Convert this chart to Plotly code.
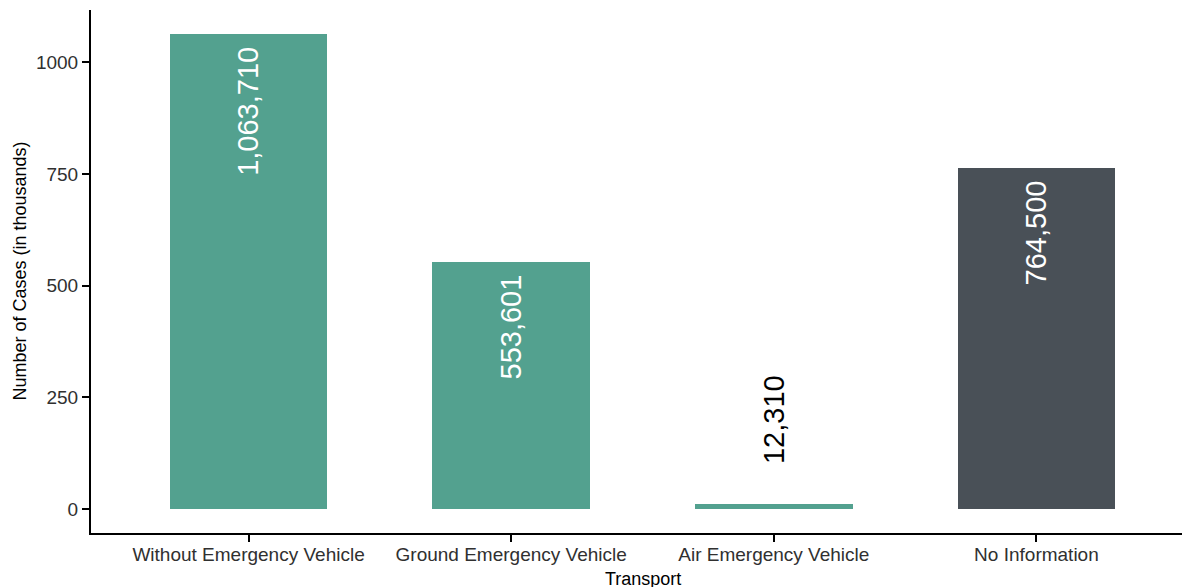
import plotly.graph_objects as go

categories = ["Without Emergency Vehicle", "Ground Emergency Vehicle",
              "Air Emergency Vehicle", "No Information"]
cases = [1063710, 553601, 12310, 764500]
bar_colors = ["#53A18F", "#53A18F", "#53A18F", "#495057"]
y_ticks = [0, 250, 500, 750, 1000]

values_k = [v / 1000 for v in cases]
labels = [f"{v:,}" for v in cases]
FONT = "Liberation Sans, Arial, sans-serif"

fig = go.Figure()
fig.add_trace(go.Bar(
    x=list(range(len(categories))),
    y=values_k,
    width=0.6,
    marker=dict(color=bar_colors, line=dict(width=0)),
    showlegend=False,
    hoverinfo="skip",
))

ymax = max(values_k)
for i, (v, lab) in enumerate(zip(values_k, labels)):
    inside = v > ymax * 0.2
    fig.add_annotation(
        x=i, y=v, xref="x", yref="y",
        text=lab, showarrow=False, textangle=-90,
        yanchor="top" if inside else "bottom",
        yshift=-11 if inside else 38,
        font=dict(family=FONT, size=29,
                  color="white" if inside else "black"),
    )

# axis titles
fig.add_annotation(
    x=0.5, y=0, xref="paper", yref="paper", xanchor="center", yanchor="top",
    yshift=-34, text="Transport", showarrow=False,
    font=dict(family=FONT, size=18, color="black"),
)
fig.add_annotation(
    x=0, y=0.5, xref="paper", yref="paper", xanchor="center", yanchor="middle",
    xshift=-72, text="Number of Cases (in thousands)", showarrow=False, textangle=-90,
    font=dict(family=FONT, size=18, color="black"),
)

fig.update_layout(
    width=1190, height=587,
    margin=dict(l=83, r=4, t=2, b=62, autoexpand=False),
    plot_bgcolor="white", paper_bgcolor="white",
    font=dict(family=FONT, size=18, color="black"),
    bargap=0,
)
fig.update_xaxes(
    range=[-0.6, 3.6], automargin=False,
    tickmode="array", tickvals=list(range(len(categories))), ticktext=categories,
    showline=True, linecolor="black", linewidth=2,
    ticks="outside", ticklen=7, tickwidth=2, tickcolor="black",
    tickfont=dict(family=FONT, size=19, color="#303030"),
    ticklabelstandoff=-4,
    showgrid=False, zeroline=False,
)
fig.update_yaxes(
    range=[-ymax * 0.05, ymax * 1.05], automargin=False,
    tickmode="array", tickvals=y_ticks, ticktext=[str(t) for t in y_ticks],
    showline=True, linecolor="black", linewidth=2,
    ticks="outside", ticklen=7, tickwidth=2, tickcolor="black",
    tickfont=dict(family=FONT, size=19, color="#303030"),
    showgrid=False, zeroline=False,
)

fig.write_html("out.html")
